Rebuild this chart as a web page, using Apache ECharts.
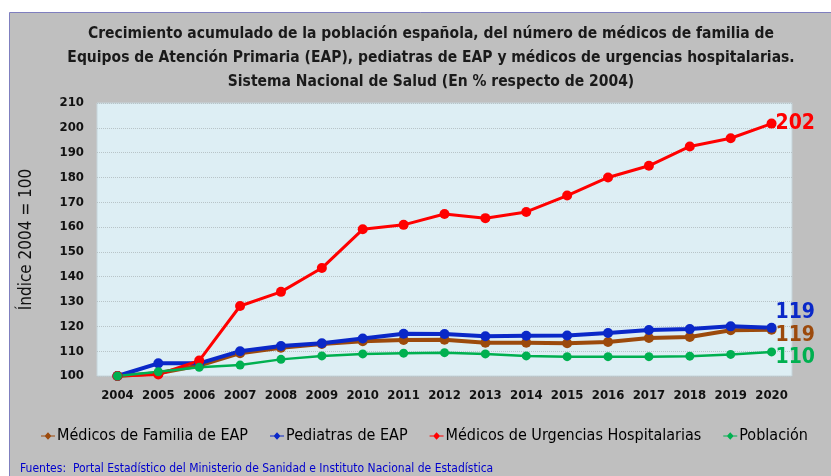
<!DOCTYPE html>
<html><head><meta charset="utf-8">
<script src="https://cdn.jsdelivr.net/npm/echarts@6/dist/echarts.min.js"></script>
<style>html,body{margin:0;padding:0;background:#fff;}#c{width:831px;height:476px;}</style>
</head><body><div id="c"></div>
<script>
const years = ['2004','2005','2006','2007','2008','2009','2010','2011','2012','2013','2014','2015','2016','2017','2018','2019','2020'];
const medicosFamilia = [100,101.1,104.2,109.2,111.4,112.9,114.0,114.5,114.6,113.4,113.4,113.2,113.7,115.3,115.7,118.4,118.6];
const pediatras = [100,105.1,105.1,110.0,112.1,113.2,115.1,117.0,116.9,116.0,116.2,116.3,117.3,118.5,118.9,120.0,119.4];
const urgencias = [100,100.6,106.2,128.2,133.9,143.5,159.1,160.9,165.3,163.6,166.1,172.7,180.0,184.7,192.5,195.8,201.7];
const poblacion = [100,101.7,103.5,104.4,106.7,108.1,108.9,109.2,109.4,108.9,108.1,107.8,107.8,107.8,108.0,108.7,109.7];
const endLabels = ['119','119','202','110'];
const names = ['Médicos de Familia de EAP','Pediatras de EAP','Médicos de Urgencias Hospitalarias','Población'];
const titleText = 'Crecimiento acumulado de la población española, del número de médicos de familia de\nEquipos de Atención Primaria (EAP), pediatras de EAP y médicos de urgencias hospitalarias.\nSistema Nacional de Salud (En % respecto de 2004)';
const yTitle = 'Índice 2004 = 100';
const source = 'Fuentes:  Portal Estadístico del Ministerio de Sanidad e Instituto Nacional de Estadística';

const FONT = '"Liberation Sans Narrow", "DejaVu Sans Condensed", sans-serif';
const colors = ['#9C4A0C','#0A28C8','#FF0000','#00B050'];
const widths = [4,4,3,2.5];
const sizes = [10,10,10,9];
const offs = [[-2,6],[-2,-15],[-2,0],[-2,6]];
const datas = [medicosFamilia, pediatras, urgencias, poblacion];

const chart = echarts.init(document.getElementById('c'));
chart.setOption({
  backgroundColor:'#ffffff',
  animation:false,
  textStyle:{fontFamily:FONT},
  graphic:[
    {type:'rect', z:-10, shape:{x:9.5,y:12.5,width:830,height:470}, style:{fill:'#BFBFBF', stroke:'#7F7FBF', lineWidth:1}},
    {type:'text', x:431, y:22, style:{text:titleText, font:'bold 15.5px '+FONT, fill:'#1a1a1a', textAlign:'center', textVerticalAlign:'top', lineHeight:24}},
    {type:'text', left:20, top:463, style:{text:source, font:'12px '+FONT, fill:'#0000CC'}}
  ],
  grid:{left:97, right:39, top:103, bottom:100, show:true, backgroundColor:'#DDEEF4', borderColor:'#C6D4DA', borderWidth:1},
  legend:{top:423, left:36, right:0, itemGap:22, itemWidth:14, itemHeight:8, icon:'path://M0,4.2L4,4.2L7,1L10,4.2L14,4.2L14,5.2L10,5.2L7,8.4L4,5.2L0,5.2Z',
    textStyle:{fontSize:16, color:'#000', fontFamily:FONT, padding:[0,0,0,-3]}, data:names},
  xAxis:{type:'category', data:years, boundaryGap:true,
    axisLine:{show:false}, axisTick:{show:false},
    axisLabel:{interval:0, fontSize:13, fontWeight:'bold', color:'#111', margin:13, fontFamily:FONT}},
  yAxis:{type:'value', min:100, max:210, interval:10,
    name:yTitle, nameLocation:'middle', nameGap:62, nameRotate:90,
    nameTextStyle:{fontSize:17, color:'#111', fontFamily:FONT},
    axisLine:{show:false}, axisTick:{show:false},
    axisLabel:{fontSize:13, fontWeight:'bold', color:'#111', margin:13, fontFamily:FONT},
    splitLine:{lineStyle:{color:'#B8C4C8', type:'dotted', width:1}}},
  series: datas.map((d,i)=>({
    name:names[i], type:'line', data:d, symbol:'circle', symbolSize:sizes[i],
    lineStyle:{color:colors[i], width:widths[i]}, itemStyle:{color:colors[i]},
    endLabel:{show:true, formatter:endLabels[i], color:colors[i], fontSize:21, fontWeight:'bold', distance:6, offset:offs[i], fontFamily:FONT}
  }))
});
</script></body></html>
